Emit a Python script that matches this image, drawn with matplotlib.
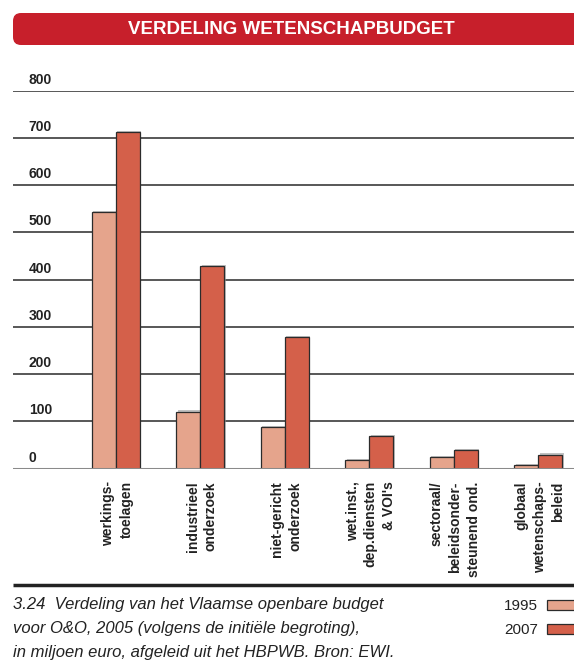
import numpy as np
import matplotlib
matplotlib.use("Agg")
import matplotlib.pyplot as plt
from matplotlib.patches import FancyBboxPatch, Rectangle
from matplotlib.transforms import ScaledTranslation
import matplotlib.patheffects as pe

# data (miljoen euro)
categories = ["werkings-\ntoelagen", "industrieel\nonderzoek", "niet-gericht\nonderzoek",
              "wet.inst.,\ndep.diensten\n& VOI's", "sectoraal/\nbeleidsonder-\nsteunend ond.",
              "globaal\nwetenschaps-\nbeleid"]
vals_1995 = [544, 121, 89, 19, 25, 7]
vals_2007 = [712, 428, 278, 70, 40, 30]
yticks = [0, 100, 200, 300, 400, 500, 600, 700, 800]

c1995 = "#e5a48c"
c2007 = "#d4604a"
red = "#c71f2b"
font = ["Liberation Sans", "DejaVu Sans"]

W, H = 574, 671
fig = plt.figure(figsize=(W / 100, H / 100), dpi=100)

# main chart
left, right, top, bot = 13.3, 574, 90.7, 468.7
ax = fig.add_axes([left / W, 1 - bot / H, (right - left) / W, (bot - top) / H])
x = np.arange(len(categories))
bw = 0.284
shadow = [pe.SimplePatchShadow(offset=(1.2, 0.8), shadow_rgbFace="#999999", alpha=0.6), pe.Normal()]
b1 = ax.bar(x - bw / 2, vals_1995, bw, color=c1995, edgecolor="#2b2b2b", lw=0.9, zorder=3)
b2 = ax.bar(x + bw / 2, vals_2007, bw, color=c2007, edgecolor="#2b2b2b", lw=0.9, zorder=3)
for b in list(b1) + list(b2):
    b.set_path_effects(shadow)

ax.set_xlim(-1.21, 5.426)
ax.set_ylim(0, 800)
ax.set_yticks(yticks)
ax.yaxis.grid(True, color="#4a4a4a", lw=1.3)
ax.set_axisbelow(True)
ax.axhline(0, color="#8a8a8a", lw=2.2, zorder=4)
for s in ax.spines.values():
    s.set_visible(False)

ax.tick_params(axis="y", length=0, pad=0)
off = ScaledTranslation(0.155, 0.04, fig.dpi_scale_trans)
for lab in ax.get_yticklabels():
    lab.set_ha("left")
    lab.set_va("bottom")
    lab.set_fontfamily(font)
    lab.set_fontweight("bold")
    lab.set_fontsize(10)
    lab.set_color("#222222")
    lab.set_transform(lab.get_transform() + off)

ax.set_xticks(x + 0.02)
ax.set_xticklabels(categories, rotation=90, ha="center", va="top", multialignment="right",
                   fontsize=10, fontweight="bold", family=font, color="#222222", linespacing=1.4)
ax.tick_params(axis="x", length=0, pad=9)

# overlay in pixel coordinates
ov = fig.add_axes([0, 0, 1, 1], zorder=-1)
ov.set_xlim(0, W)
ov.set_ylim(H, 0)
ov.axis("off")

ov.add_patch(FancyBboxPatch((13, 13), 600, 32, boxstyle="round,pad=0,rounding_size=8",
                            fc=red, ec="none"))
ov.text(291, 29.5, "VERDELING WETENSCHAPBUDGET", color="white", fontsize=13.5, fontweight="bold",
        family=font, ha="center", va="center")

ov.plot([13, 574], [585, 585], color="#222222", lw=2.5, solid_capstyle="butt")

caption = ["3.24  Verdeling van het Vlaamse openbare budget",
           "voor O&O, 2005 (volgens de initiële begroting),",
           "in miljoen euro, afgeleid uit het HBPWB. Bron: EWI."]
for i, line in enumerate(caption):
    ov.text(13, 609.5 + 23.8 * i, line, fontsize=12, style="italic", family=font,
            color="#222222", ha="left", va="baseline")

for i, (lab, c) in enumerate([("1995", c1995), ("2007", c2007)]):
    y = 609.5 + 24.5 * i
    ov.text(538, y, lab, fontsize=11, family=font, color="#222222", ha="right", va="baseline")
    ov.add_patch(Rectangle((547, y - 10), 40, 10, fc=c, ec="#2b2b2b", lw=0.9))

fig.savefig("out.png", dpi=100)
